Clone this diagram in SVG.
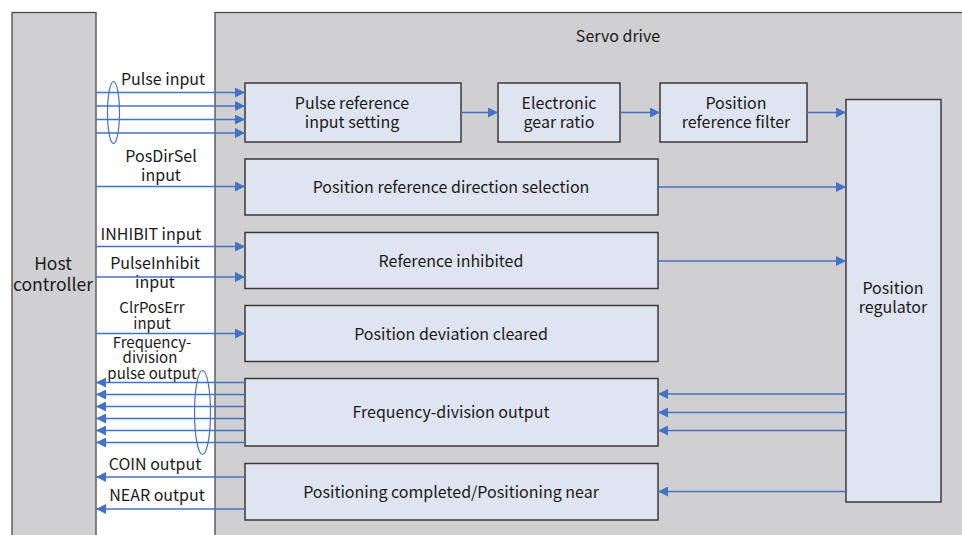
<svg xmlns="http://www.w3.org/2000/svg" width="962" height="535" viewBox="0 0 962 535">
<style>
.bg{fill:#d0d0d2;stroke:#4a4a4a;stroke-width:1.3}
.box{fill:#dfe5f0;stroke:#3a3a3a;stroke-width:1.5}
text{font-family:"Noto Sans CJK SC","Noto Sans",sans-serif;font-size:16px;fill:#1a1a1a;text-anchor:middle}
.sm{font-size:15px}
.lg{font-size:17.5px}
.ln{stroke:#4472c4;stroke-width:1.4;fill:none}
.ell{stroke:#4472c4;stroke-width:1.2;fill:none}
</style>
<defs>
<marker id="ah" viewBox="0 0 10 10" refX="10" refY="5" markerWidth="10" markerHeight="10" markerUnits="userSpaceOnUse" orient="auto">
<path d="M0,0 L10,5 L0,10 Z" fill="#4472c4"/>
</marker>
</defs>
<rect width="962" height="535" fill="#ffffff"/>
<g id="host">
<rect class="bg" x="12" y="12.5" width="84" height="530"/>
<text class="lg" x="53" y="270">Host</text>
<text class="lg" x="53" y="291">controller</text>
</g>
<g id="servo">
<rect class="bg" x="215" y="12.5" width="760" height="530"/>
<text x="618" y="42">Servo drive</text>
</g>
<g id="pulse-ref">
<rect class="box" x="245" y="83" width="216" height="59"/>
<text x="352" y="109">Pulse reference</text>
<text x="352" y="128">input setting</text>
</g>
<g id="gear">
<rect class="box" x="498" y="83" width="122" height="59"/>
<text x="559" y="109">Electronic</text>
<text x="559" y="128">gear ratio</text>
</g>
<g id="filter">
<rect class="box" x="660" y="83" width="147" height="59"/>
<text x="736" y="109">Position</text>
<text x="736" y="128">reference filter</text>
</g>
<g id="regulator">
<rect class="box" x="846" y="99.5" width="95" height="402.5"/>
<text x="893" y="294">Position</text>
<text x="893" y="313">regulator</text>
</g>
<g id="dirsel">
<rect class="box" x="245" y="159" width="413" height="56"/>
<text x="451" y="193">Position reference direction selection</text>
</g>
<g id="inhibit">
<rect class="box" x="245" y="232.5" width="413" height="56"/>
<text x="451" y="267">Reference inhibited</text>
</g>
<g id="clear">
<rect class="box" x="245" y="305.5" width="413" height="56"/>
<text x="451" y="339.5">Position deviation cleared</text>
</g>
<g id="freqdiv">
<rect class="box" x="245" y="378.5" width="413" height="67.5"/>
<text x="451" y="417.5">Frequency-division output</text>
</g>
<g id="poscomp">
<rect class="box" x="245" y="463.5" width="413" height="56.5"/>
<text x="451" y="497.5">Positioning completed/Positioning near</text>
</g>
<g id="labels">
<text x="163" y="85">Pulse input</text>
<text x="161" y="162">PosDirSel</text>
<text x="161" y="181">input</text>
<text x="151" y="240">INHIBIT input</text>
<text x="155" y="269">PulseInhibit</text>
<text x="155" y="288">input</text>
<text class="sm" x="152" y="313">ClrPosErr</text>
<text class="sm" x="152" y="329">input</text>
<text class="sm" x="152" y="348">Frequency-</text>
<text class="sm" x="150" y="363">division</text>
<text class="sm" x="152" y="379">pulse output</text>
<text x="155" y="470">COIN output</text>
<text x="157" y="501">NEAR output</text>
</g>
<g id="connectors">
<line class="ln" x1="96" y1="92.5" x2="245" y2="92.5" marker-end="url(#ah)"/>
<line class="ln" x1="96" y1="106" x2="245" y2="106" marker-end="url(#ah)"/>
<line class="ln" x1="96" y1="119.5" x2="245" y2="119.5" marker-end="url(#ah)"/>
<line class="ln" x1="96" y1="133" x2="245" y2="133" marker-end="url(#ah)"/>
<ellipse class="ell" cx="113.5" cy="112.5" rx="6" ry="31"/>
<line class="ln" x1="96" y1="186.5" x2="245" y2="186.5" marker-end="url(#ah)"/>
<line class="ln" x1="96" y1="246.5" x2="245" y2="246.5" marker-end="url(#ah)"/>
<line class="ln" x1="96" y1="277" x2="245" y2="277" marker-end="url(#ah)"/>
<line class="ln" x1="96" y1="333.5" x2="245" y2="333.5" marker-end="url(#ah)"/>
<line class="ln" x1="245" y1="382.5" x2="96" y2="382.5" marker-end="url(#ah)"/>
<line class="ln" x1="245" y1="394.5" x2="96" y2="394.5" marker-end="url(#ah)"/>
<line class="ln" x1="245" y1="406.5" x2="96" y2="406.5" marker-end="url(#ah)"/>
<line class="ln" x1="245" y1="418.5" x2="96" y2="418.5" marker-end="url(#ah)"/>
<line class="ln" x1="245" y1="430.5" x2="96" y2="430.5" marker-end="url(#ah)"/>
<line class="ln" x1="245" y1="442.5" x2="96" y2="442.5" marker-end="url(#ah)"/>
<ellipse class="ell" cx="202.5" cy="412.5" rx="8" ry="42"/>
<line class="ln" x1="245" y1="477" x2="96" y2="477" marker-end="url(#ah)"/>
<line class="ln" x1="245" y1="509" x2="96" y2="509" marker-end="url(#ah)"/>
<line class="ln" x1="461" y1="112.5" x2="498" y2="112.5" marker-end="url(#ah)"/>
<line class="ln" x1="620" y1="112.5" x2="660" y2="112.5" marker-end="url(#ah)"/>
<line class="ln" x1="807" y1="112.5" x2="846" y2="112.5" marker-end="url(#ah)"/>
<line class="ln" x1="658" y1="187" x2="846" y2="187" marker-end="url(#ah)"/>
<line class="ln" x1="658" y1="261" x2="846" y2="261" marker-end="url(#ah)"/>
<line class="ln" x1="846" y1="394" x2="658" y2="394" marker-end="url(#ah)"/>
<line class="ln" x1="846" y1="412.5" x2="658" y2="412.5" marker-end="url(#ah)"/>
<line class="ln" x1="846" y1="430.5" x2="658" y2="430.5" marker-end="url(#ah)"/>
<line class="ln" x1="846" y1="491.5" x2="658" y2="491.5" marker-end="url(#ah)"/>
</g>
</svg>
